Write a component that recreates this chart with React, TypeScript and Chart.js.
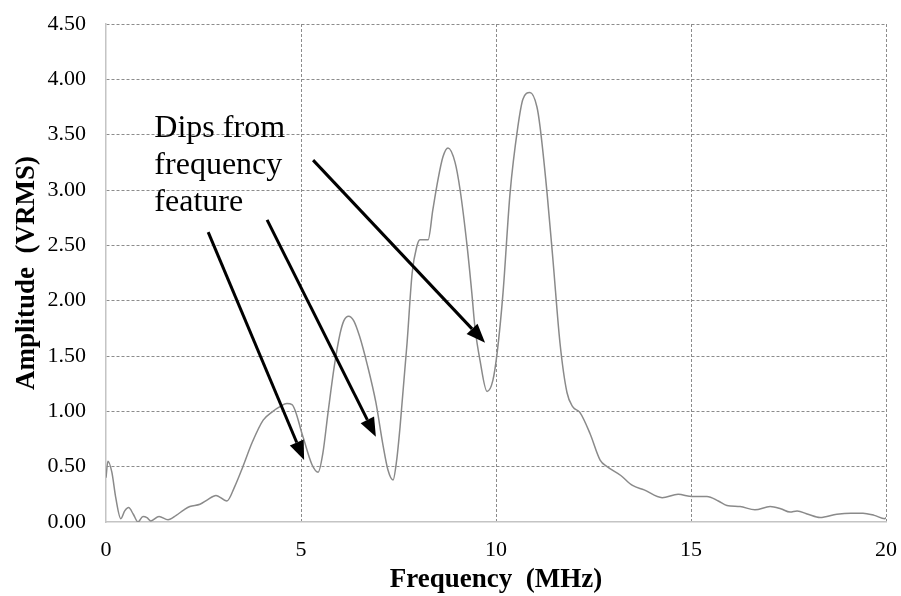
import React, { useEffect, useRef } from "react";
import { Chart, registerables } from "chart.js";

Chart.register(...registerables);

const freqMHz = [
  0, 0.05, 0.15, 0.25, 0.38, 0.48, 0.58, 0.7, 0.82, 0.95, 1.05, 1.15, 1.36, 1.59, 1.8, 2.0,
  2.15, 2.41, 2.6, 2.82, 3.1, 3.3, 3.51, 3.75, 4.03, 4.28, 4.45, 4.64, 4.77, 5.05, 5.28, 5.44,
  5.56, 5.69, 5.85, 6.0, 6.1, 6.22, 6.35, 6.5, 6.7, 6.92, 7.1, 7.23, 7.36, 7.45, 7.54, 7.72,
  7.85, 7.97, 8.05, 8.26, 8.38, 8.51, 8.64, 8.77, 8.95, 9.08, 9.26, 9.38, 9.46, 9.59, 9.77,
  9.92, 10.03, 10.18, 10.36, 10.56, 10.69, 10.87, 11.05, 11.13, 11.31, 11.46, 11.64, 11.82,
  11.97, 12.15, 12.41, 12.67, 12.85, 13.2, 13.5, 13.8, 14.26, 14.67, 15.03, 15.41, 15.7,
  15.92, 16.26, 16.64, 17.03, 17.3, 17.54, 17.72, 18.0, 18.31, 18.74, 19.1, 19.41, 19.7,
  19.97, 20.0,
];

const amplitudeVRMS = [
  0.4, 0.55, 0.45, 0.22, 0.03, 0.1, 0.13, 0.07, 0.0, 0.05, 0.04, 0.01, 0.05, 0.02, 0.06, 0.11,
  0.14, 0.16, 0.2, 0.24, 0.19, 0.32, 0.5, 0.72, 0.92, 1.0, 1.04, 1.07, 1.06, 0.77, 0.52, 0.45,
  0.62, 0.98, 1.4, 1.7, 1.82, 1.86, 1.82, 1.68, 1.42, 1.08, 0.7, 0.47, 0.38, 0.55, 0.86, 1.62,
  2.25, 2.49, 2.55, 2.55, 2.82, 3.09, 3.3, 3.38, 3.25, 3.0, 2.49, 2.07, 1.76, 1.46, 1.18,
  1.28, 1.53, 2.07, 2.97, 3.57, 3.82, 3.88, 3.75, 3.57, 2.97, 2.37, 1.62, 1.17,
  1.04, 0.99, 0.8, 0.56, 0.5, 0.42, 0.33, 0.29, 0.22, 0.25, 0.23, 0.23, 0.19,
  0.15, 0.14, 0.11, 0.14, 0.12, 0.09, 0.1, 0.07, 0.04, 0.07, 0.08, 0.08, 0.06,
  0.03, 0.04,
];

const xTickValues = [0, 5, 10, 15, 20];
const yTickValues = [0, 0.5, 1, 1.5, 2, 2.5, 3, 3.5, 4, 4.5];

const noteLines = ["Dips from", "frequency", "feature"];
const noteAnchor = [1.24, 3.48]; // data coords of first baseline start

// arrows: start and tip in data coordinates
const arrowStartX = [5.31, 2.62, 4.13];
const arrowStartY = [3.27, 2.62, 2.73];
const arrowTipX = [9.72, 5.08, 6.92];
const arrowTipY = [1.62, 0.56, 0.77];

const SERIF = "'Liberation Serif', 'Times New Roman', Times, serif";

const annotationPlugin = {
  id: "dipNotes",
  afterDatasetsDraw(chart: any) {
    const { ctx, scales } = chart;
    const xs = scales.x;
    const ys = scales.y;
    ctx.save();
    ctx.fillStyle = "#000";
    ctx.font = `32px ${SERIF}`;
    ctx.textAlign = "left";
    ctx.textBaseline = "alphabetic";
    const tx = xs.getPixelForValue(noteAnchor[0]);
    const ty = ys.getPixelForValue(noteAnchor[1]);
    noteLines.forEach((l, i) => ctx.fillText(l, tx, ty + i * 37));

    for (let i = 0; i < arrowStartX.length; i++) {
      const x0 = xs.getPixelForValue(arrowStartX[i]);
      const y0 = ys.getPixelForValue(arrowStartY[i]);
      const x1 = xs.getPixelForValue(arrowTipX[i]);
      const y1 = ys.getPixelForValue(arrowTipY[i]);
      const ang = Math.atan2(y1 - y0, x1 - x0);
      const headLen = 19;
      const headHalf = 7.5;
      const bx = x1 - headLen * Math.cos(ang);
      const by = y1 - headLen * Math.sin(ang);
      ctx.strokeStyle = "#000";
      ctx.lineWidth = 3;
      ctx.beginPath();
      ctx.moveTo(x0, y0);
      ctx.lineTo(bx, by);
      ctx.stroke();
      ctx.beginPath();
      ctx.moveTo(x1, y1);
      ctx.lineTo(bx + headHalf * Math.sin(ang), by - headHalf * Math.cos(ang));
      ctx.lineTo(bx - headHalf * Math.sin(ang), by + headHalf * Math.cos(ang));
      ctx.closePath();
      ctx.fill();
    }
    ctx.restore();
  },
};

export default function App() {
  const canvasRef = useRef<HTMLCanvasElement | null>(null);

  useEffect(() => {
    document.body.style.margin = "0";
    const canvas = canvasRef.current;
    if (!canvas) return;
    const points = freqMHz.map((x, i) => ({ x, y: amplitudeVRMS[i] }));
    const chart = new Chart(canvas, {
      type: "line",
      data: {
        datasets: [
          {
            data: points,
            borderColor: "#8a8a8a",
            borderWidth: 1.5,
            pointRadius: 0,
            fill: false,
            cubicInterpolationMode: "monotone",
          },
        ],
      },
      options: {
        animation: false,
        responsive: false,
        maintainAspectRatio: false,
        layout: { padding: { top: 24, right: 15, bottom: 0, left: 0 } },
        plugins: { legend: { display: false }, tooltip: { enabled: false } },
        scales: {
          x: {
            type: "linear",
            min: 0,
            max: 20,
            afterBuildTicks: (s: any) => {
              s.ticks = xTickValues.map((v) => ({ value: v }));
            },
            afterFit: (s: any) => {
              s.height = 74;
              s.paddingLeft = 0;
              s.paddingRight = 0;
            },
            ticks: {
              color: "#000",
              font: { family: SERIF, size: 22 },
              padding: 15,
              maxRotation: 0,
            },
            grid: {
              drawTicks: false,
              color: (c: any) => (c.tick && c.tick.value === 0 ? "rgba(0,0,0,0)" : "#8c8c8c"),
              lineWidth: 1,
            },
            border: { display: true, color: "#c4c4c4", width: 1.5, dash: [3, 2] },
            title: {
              display: true,
              text: "Frequency  (MHz)",
              color: "#000",
              font: { family: SERIF, size: 27, weight: "bold" },
              padding: { top: 0, bottom: 0 },
            },
          },
          y: {
            type: "linear",
            min: 0,
            max: 4.5,
            afterBuildTicks: (s: any) => {
              s.ticks = yTickValues.map((v) => ({ value: v }));
            },
            afterFit: (s: any) => {
              s.width = 106;
              s.paddingTop = 0;
              s.paddingBottom = 0;
            },
            ticks: {
              color: "#000",
              font: { family: SERIF, size: 22 },
              padding: 20,
              callback: (v: any) => Number(v).toFixed(2),
            },
            grid: {
              drawTicks: false,
              color: (c: any) => (c.tick && c.tick.value === 0 ? "rgba(0,0,0,0)" : "#8c8c8c"),
              lineWidth: 1,
            },
            border: { display: true, color: "#c4c4c4", width: 1.5, dash: [3, 2] },
            title: {
              display: true,
              text: "Amplitude  (VRMS)",
              color: "#000",
              font: { family: SERIF, size: 27, weight: "bold" },
              padding: { top: 11, bottom: 0 },
            },
          },
        },
      },
      plugins: [annotationPlugin],
    });
    return () => chart.destroy();
  }, []);

  return (
    <div style={{ position: "absolute", left: 0, top: 0, width: 901, height: 596, background: "#fff" }}>
      <canvas ref={canvasRef} width={901} height={596} style={{ display: "block", width: 901, height: 596 }} />
    </div>
  );
}
